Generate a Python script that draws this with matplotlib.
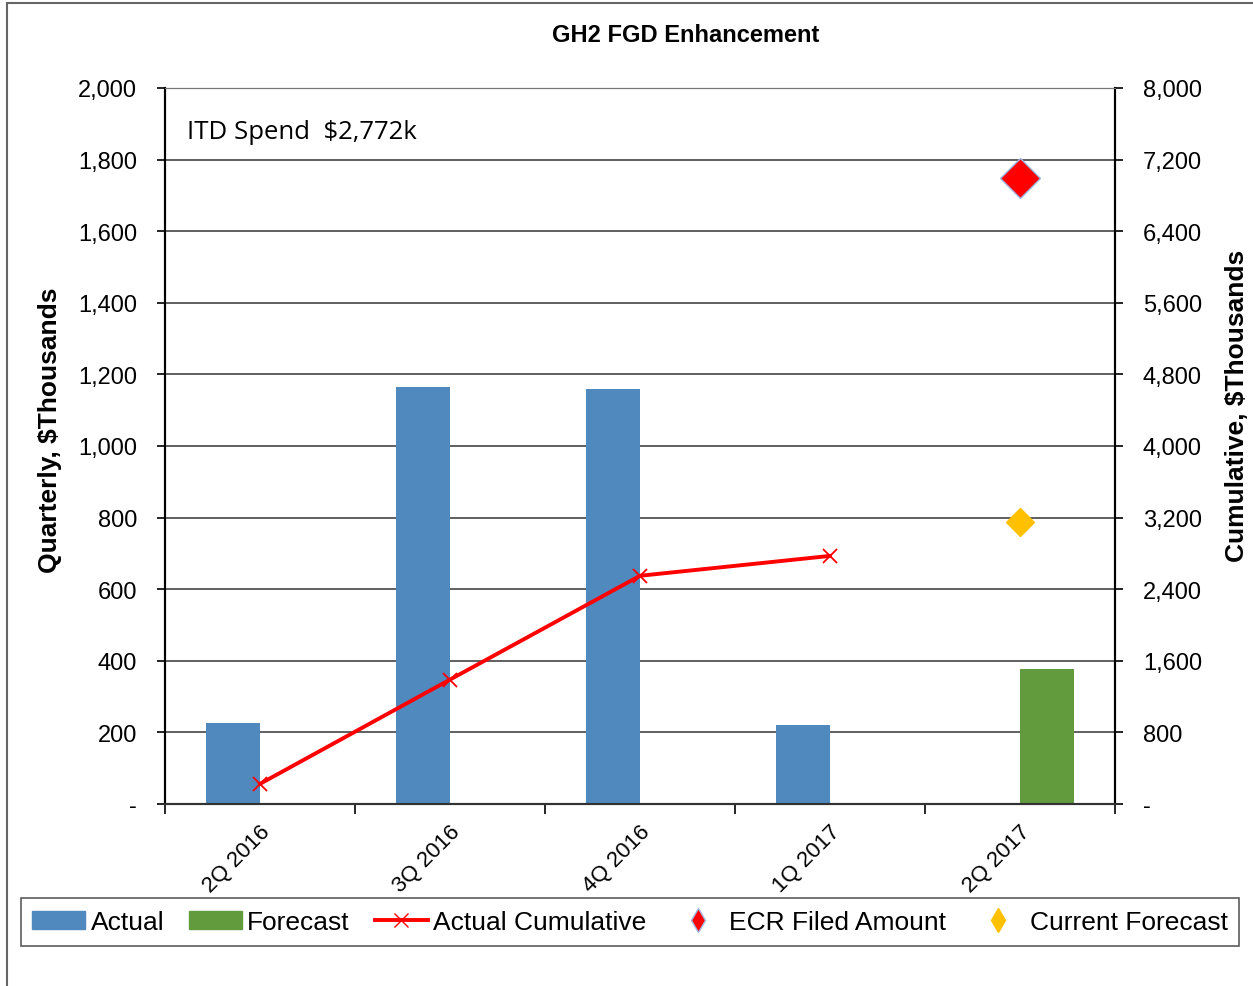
import matplotlib
matplotlib.use('Agg')
import matplotlib.pyplot as plt
from matplotlib.patches import Patch, Rectangle
from matplotlib.lines import Line2D
from matplotlib.ticker import FuncFormatter

plt.rcParams['font.family'] = ['Liberation Sans', 'DejaVu Sans']

quarters = ['2Q 2016', '3Q 2016', '4Q 2016', '1Q 2017', '2Q 2017']
actual = [225, 1165, 1160, 222, 0]
forecast = [0, 0, 0, 0, 377]
cumulative = [225, 1390, 2550, 2772]
ecr_filed = 7000
current_forecast = 3150

fig = plt.figure(figsize=(12.53, 9.87), dpi=100)
ax = fig.add_axes([165/1253, 1-805/987, 950/1253, 716/987])
ax2 = ax.twinx()

x = list(range(len(quarters)))
w = 0.284
ax.bar([i - w/2 for i in x[:4]], actual[:4], width=w, color='#4F89BD', zorder=2)
ax.bar([i + w/2 for i in x[4:]], forecast[4:], width=w, color='#629A3E', zorder=2)

ax2.plot(x[:4], cumulative, color='#FF0000', lw=2.8, marker='x', ms=10, mew=1.3, zorder=3)
ax2.plot([4], [ecr_filed], marker='D', ms=20, color='#FF0000', mec='#9DB8E0', mew=1, ls='none')
ax2.plot([4], [current_forecast], marker='D', ms=14, color='#FFC000', mec='#FFC000', ls='none')

ax.set_xlim(-0.5, 4.5)
ax.set_ylim(0, 2000)
ax2.set_ylim(0, 8000)
ax.set_yticks(range(0, 2001, 200))
ax2.set_yticks(range(0, 8001, 800))
fmt = FuncFormatter(lambda v, p: '-' if v == 0 else f'{int(v):,}')
ax.yaxis.set_major_formatter(fmt)
ax2.yaxis.set_major_formatter(fmt)
ax.grid(axis='y', color='#444444', lw=1.2, zorder=0)
ax.set_axisbelow(True)

ax.set_xticks([i - 0.5 for i in range(6)], minor=False)
ax.set_xticklabels([])
ax.set_xticks(x, minor=True)
ax.set_xticklabels(quarters, minor=True, rotation=45, ha='right', rotation_mode='anchor', fontsize=16)
ax.tick_params(axis='x', which='minor', length=0, pad=12)
ax.tick_params(axis='x', which='major', length=7, width=1.2, direction='out')
ax.tick_params(axis='y', length=6, width=1.2, labelsize=17, pad=14)
ax2.tick_params(axis='y', length=6, width=1.2, labelsize=17, pad=14)
for a in (ax, ax2):
    a.spines['top'].set_color('#777777')
    a.spines['left'].set_linewidth(1.5)
    a.spines['right'].set_linewidth(1.5)
    a.spines['bottom'].set_linewidth(1.5)
    a.spines['bottom'].set_color('#333333')

ax.text(0.023, 0.939, 'ITD Spend  \\$2,772k', transform=ax.transAxes, fontsize=18.5,
        family=['Open Sans', 'DejaVu Sans'], va='center', ha='left')

fig.text(686/1253, 1-36/987, 'GH2 FGD Enhancement', ha='center', va='center',
         fontsize=17, fontweight='bold')
fig.text(50/1253, 1-430/987, 'Quarterly, \\$Thousands', rotation=90, ha='center', va='center',
         fontsize=19, fontweight='bold')
fig.text(1237/1253, 1-406/987, 'Cumulative, \\$Thousands', rotation=90, ha='center', va='center',
         fontsize=19, fontweight='bold')

# outer chart border (partly cropped in reference)
fig.patches.append(Rectangle((7/1253, -0.1), 1.2, 1-4/987+0.1, transform=fig.transFigure,
                             fill=False, ec='#666666', lw=1.5))

handles = [
    Patch(color='#4F89BD'),
    Patch(color='#629A3E'),
    Line2D([], [], color='#FF0000', lw=2.8, marker='x', ms=10),
    Line2D([], [], color='#FF0000', marker='d', ms=12, ls='none', mec='#9DB8E0'),
    Line2D([], [], color='#FFC000', marker='d', ms=12, ls='none'),
]
labels = ['Actual', 'Forecast', 'Actual Cumulative', 'ECR Filed Amount', 'Current Forecast']
leg = fig.legend(handles, labels, loc='center', bbox_to_anchor=(630/1253, 1-923/987), ncol=5,
                 fontsize=19, frameon=True, fancybox=False, edgecolor='#333333',
                 handlelength=2.0, handletextpad=0.2, columnspacing=0.95, borderpad=0.45)
leg.get_frame().set_linewidth(1.2)

fig.savefig('out.png', dpi=100)
